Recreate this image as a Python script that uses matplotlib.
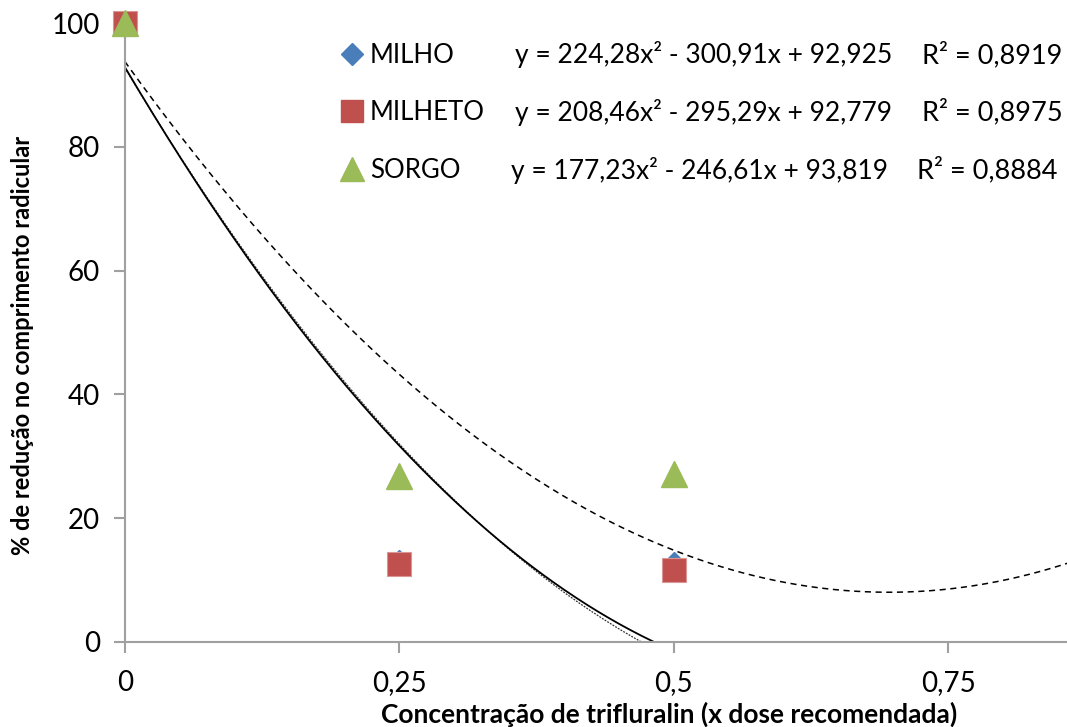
import numpy as np
import matplotlib
matplotlib.use("Agg")
import matplotlib.pyplot as plt
from matplotlib.lines import Line2D

plt.rcParams['font.family'] = ['Lato', 'DejaVu Sans']

# doses (x recommended dose) and observed reductions (%)
doses = [0, 0.25, 0.5]
milho = [100, 13.2, 12.9]
milheto = [100, 12.6, 11.6]
sorgo = [100, 26.8, 27.1]

# quadratic trendline coefficients (a, b, c) and R2
coef_milho = (224.28, -300.91, 92.925)
coef_milheto = (208.46, -295.29, 92.779)
coef_sorgo = (177.23, -246.61, 93.819)
r2 = ["0,8919", "0,8975", "0,8884"]
names = ["MILHO", "MILHETO", "SORGO"]
eqs = ["y = 224,28x² - 300,91x + 92,925",
       "y = 208,46x² - 295,29x + 92,779",
       "y = 177,23x² - 246,61x + 93,819"]

xticks = [0, 0.25, 0.5, 0.75]
xticklabels = ["0", "0,25", "0,5", "0,75"]
yticks = [0, 20, 40, 60, 80, 100]

fig = plt.figure(figsize=(10.67, 7.27), dpi=100)
ax = fig.add_axes([0.117, 0.117, 0.883, 0.851])

xs = np.linspace(0, 0.86, 600)

def trend(coef):
    a, b, c = coef
    y = a * xs**2 + b * xs + c
    y = np.where(y >= 0, y, np.nan)
    return y

ax.plot(xs, trend(coef_sorgo), color='black', lw=1.1, ls=(0, (4, 3)))
ax.plot(xs, trend(coef_milheto), color='#333333', lw=0.9, ls=(0, (1.5, 1)))
ax.plot(xs, trend(coef_milho), color='black', lw=1.3, ls='-')

ax.plot(doses, milho, 'D', color='#4a7ebb', ms=10, clip_on=False, zorder=5)
ax.plot(doses, milheto, 's', color='#c0504d', ms=17, mec='#d99694', mew=0.8,
        clip_on=False, zorder=6)
ax.plot(doses, sorgo, '^', color='#9bbb59', ms=19, clip_on=False, zorder=7)

ax.set_xlim(0, 0.858)
ax.set_ylim(0, 100)
ax.set_xticks(xticks)
ax.set_xticklabels(xticklabels)
ax.set_yticks(yticks)

for s in ['top', 'right']:
    ax.spines[s].set_visible(False)
for s in ['left', 'bottom']:
    ax.spines[s].set_color('#a0a0a0')
    ax.spines[s].set_linewidth(1.5)
ax.tick_params(axis='both', colors='#a0a0a0', width=1.5, length=8,
               labelcolor='black', labelsize=20)
ax.tick_params(axis='x', pad=12)
ax.tick_params(axis='y', pad=10)

ax.set_xlabel("Concentração de trifluralin (x dose recomendada)",
              fontsize=19, fontweight='bold', va='center')
ax.set_ylabel("% de redução no comprimento radicular",
              fontsize=17, fontweight='bold', va='center')
ax.xaxis.set_label_coords(0.578, -0.117)
ax.yaxis.set_label_coords(-0.109, 0.48)

# legend rows with trendline equations
handles = [
    Line2D([], [], marker='D', color='#4a7ebb', ls='', ms=11),
    Line2D([], [], marker='s', color='#c0504d', ls='', ms=16),
    Line2D([], [], marker='^', color='#9bbb59', ls='', ms=17),
]
leg = ax.legend(handles, names, loc='upper left', bbox_to_anchor=(0.219, 0.985),
                frameon=False, fontsize=18.5, handlelength=0.8, handletextpad=0.3,
                labelspacing=1.27, borderaxespad=0)

row_y = [55, 112, 170]
eq_right = [892, 892, 888]
r2_left = [922, 922, 917]
for yp, eq, xr, xl, r in zip(row_y, eqs, eq_right, r2_left, r2):
    fig.text(xr / 1067, 1 - yp / 727, eq, ha='right', va='center', fontsize=19)
    fig.text(xl / 1067, 1 - yp / 727, "R² = " + r, ha='left', va='center',
             fontsize=19.5)

fig.savefig("out.png", dpi=100)
